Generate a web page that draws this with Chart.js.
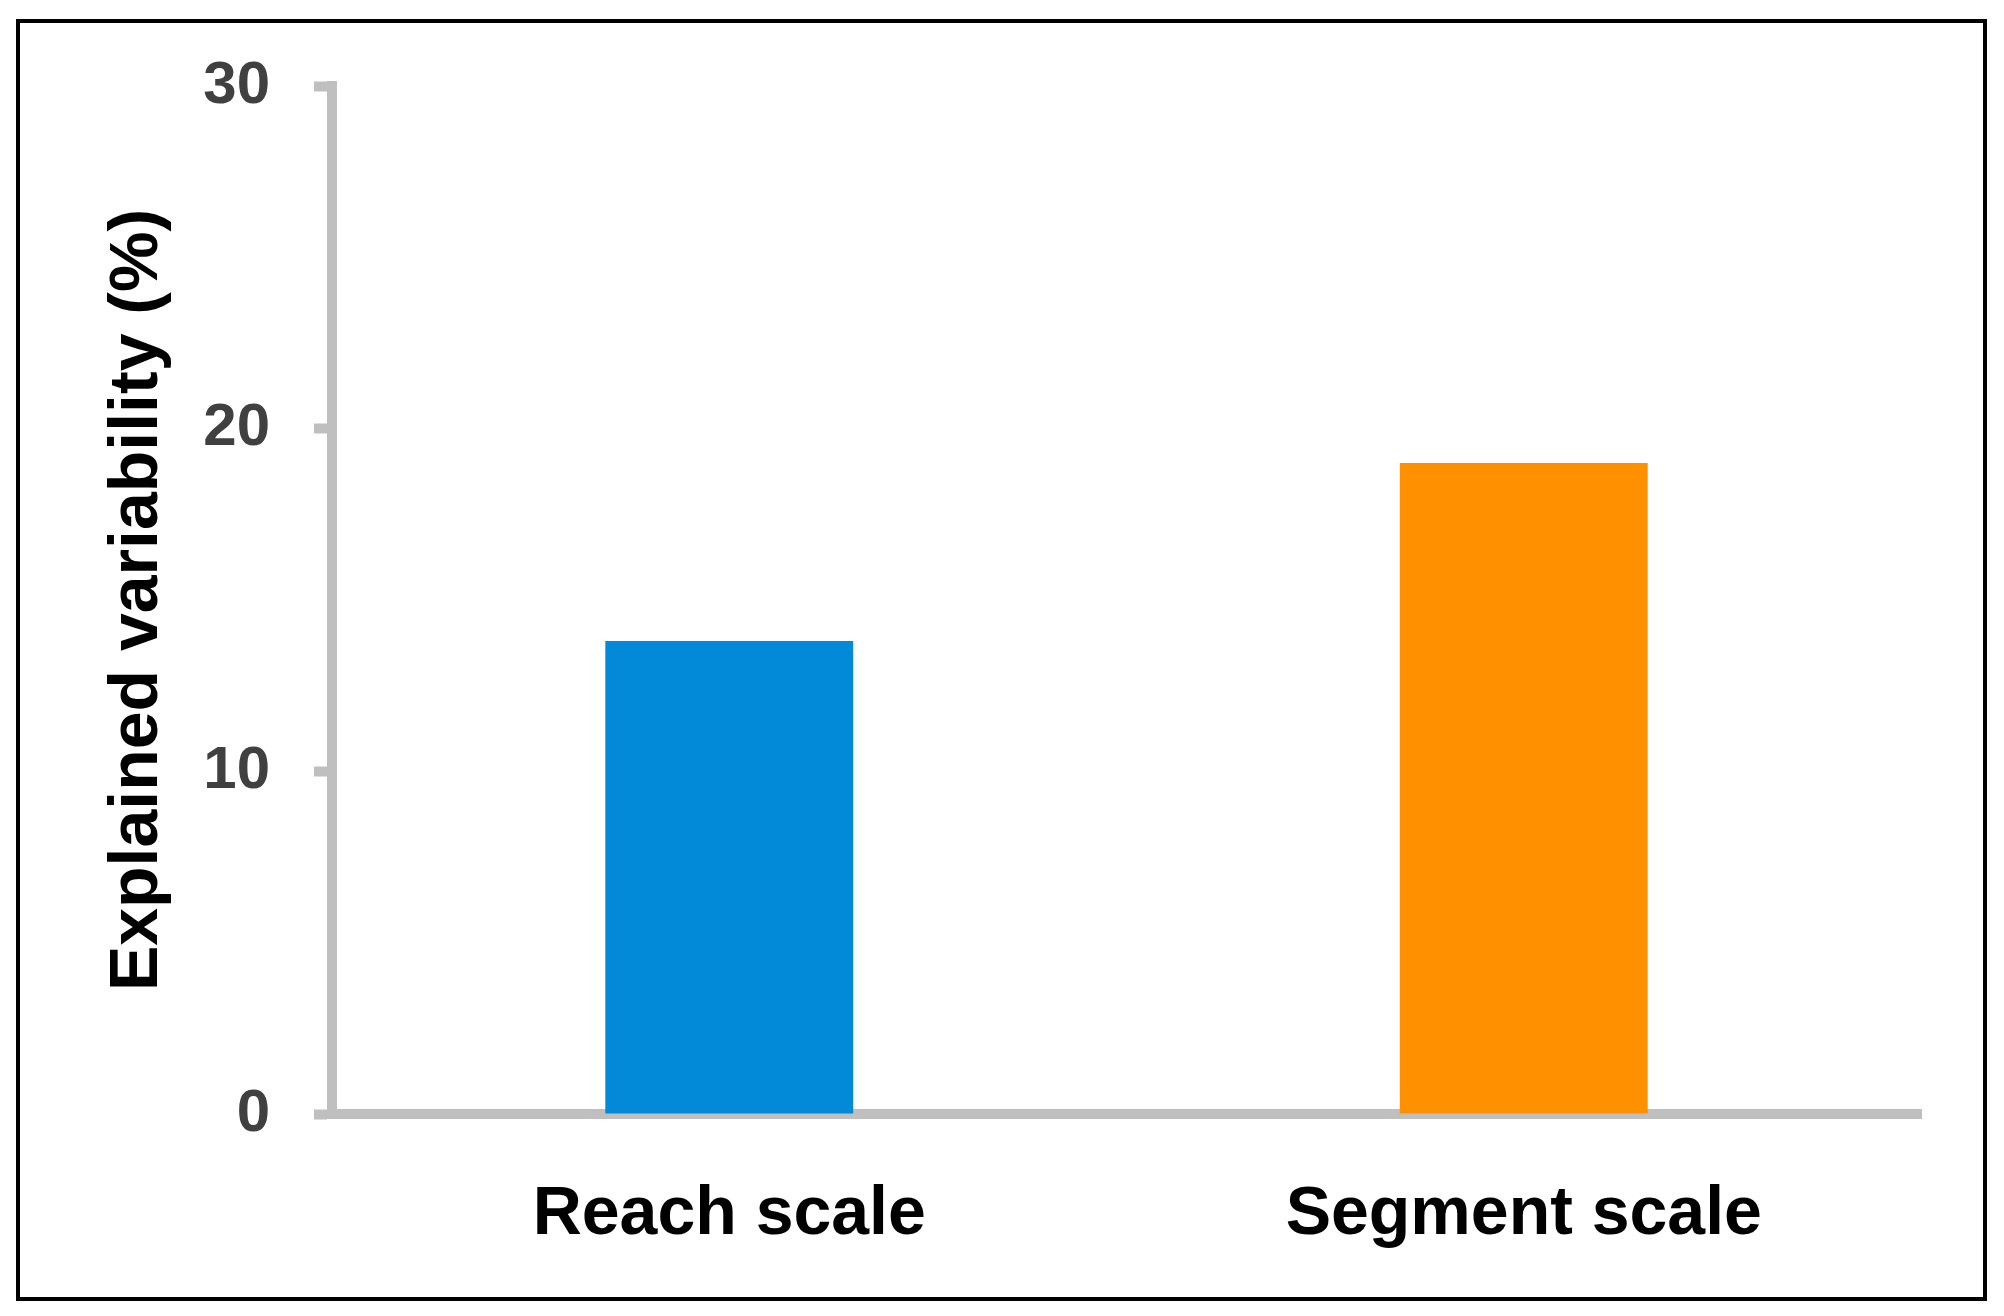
<!DOCTYPE html>
<html>
<script src="https://cdn.jsdelivr.net/npm/chart.js@4.4.1/dist/chart.umd.min.js"></script>
<body style="margin:0;background:#fff">
<div style="width:2004px;height:1316px"><canvas id="myChart"></canvas></div>

<script>
    const categories = ["Reach scale", "Segment scale"];
    const values = [13.8, 19.0];
    const barColors = ["#028ad9", "#ff9000"];
    const yTicks = [0, 10, 20, 30];
    const yTitle = "Explained variability (%)";

    const axisGray = "#bfbfbf";

    // black frame round the whole picture
    const framePlugin = {
        id: "frame",
        afterDraw(chart) {
            const ctx = chart.ctx;
            ctx.save();
            ctx.strokeStyle = "#000";
            ctx.lineWidth = 4;
            ctx.strokeRect(18, 21, 1967, 1278);
            ctx.restore();
        }
    };

    const myChart = new Chart("myChart", {
        type: "bar",
        data: {
            labels: categories,
            datasets: [{
                data: values,
                backgroundColor: barColors,
                borderWidth: 0,
                categoryPercentage: 1,
                barPercentage: 0.312
            }]
        },
        options: {
            responsive: true,
            maintainAspectRatio: false,
            animation: false,
            devicePixelRatio: 1,
            layout: {padding: {left: 0, right: 83, top: 86, bottom: 0}},
            plugins: {
                legend: {display: false},
                tooltip: {enabled: false}
            },
            scales: {
                x: {
                    z: 1,
                    grid: {display: false, drawTicks: false},
                    border: {display: true, color: axisGray, width: 10},
                    ticks: {
                        color: "#000",
                        padding: 60,
                        font: {family: "'Liberation Sans', Arial, sans-serif", size: 68, weight: "bold"}
                    },
                    afterFit(scale) { scale.height = 202; }
                },
                y: {
                    z: 1,
                    min: 0,
                    max: 30,
                    afterBuildTicks(scale) { scale.ticks = yTicks.map(v => ({value: v})); },
                    grid: {
                        drawOnChartArea: false,
                        color: axisGray,
                        tickColor: axisGray,
                        tickLength: 18,
                        tickWidth: 10
                    },
                    border: {display: true, color: axisGray, width: 10},
                    ticks: {
                        color: "#404040",
                        padding: 44,
                        font: {family: "'Liberation Sans', Arial, sans-serif", size: 60, weight: "bold"}
                    },
                    title: {
                        display: true,
                        text: yTitle,
                        color: "#000",
                        padding: {top: 97, bottom: 0},
                        font: {family: "'Liberation Sans', Arial, sans-serif", size: 68, weight: "bold"}
                    },
                    afterFit(scale) { scale.width = 332; }
                }
            }
        },
        plugins: [framePlugin]
    });
</script>
</body>
</html>
